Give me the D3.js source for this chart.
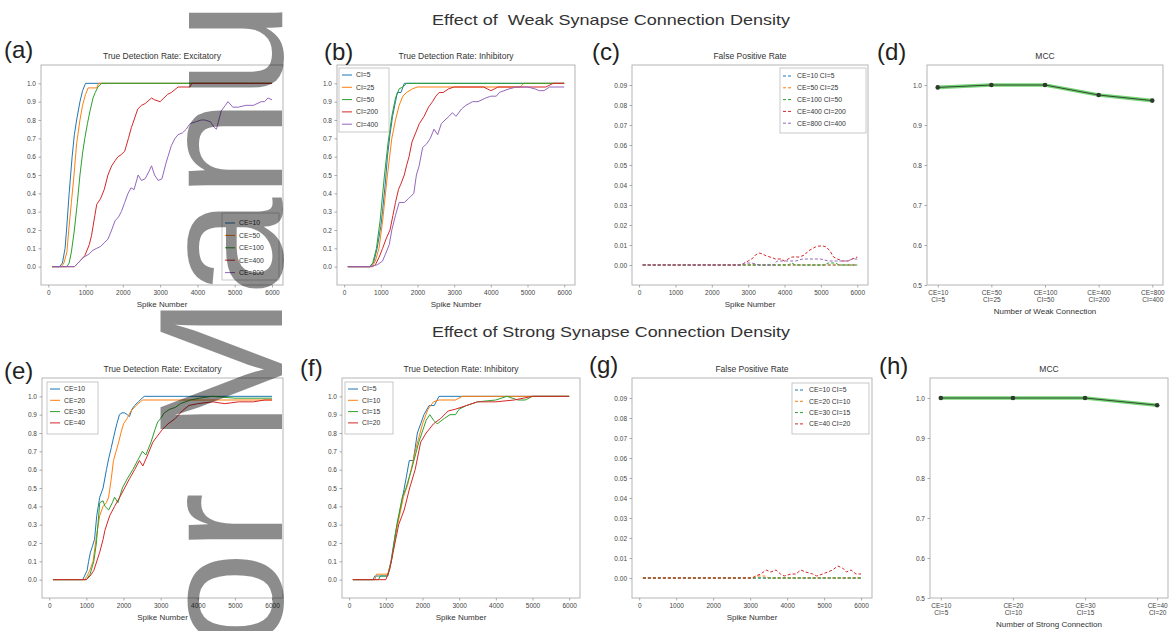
<!DOCTYPE html>
<html><head><meta charset="utf-8">
<script src="https://cdn.jsdelivr.net/npm/d3@7"></script>
<style>
body{margin:0;background:#fff}
text{font-family:"Liberation Sans",Arial,Helvetica,sans-serif}
</style></head>
<body><svg id="c" width="1170" height="631"></svg>
<script>
// ---------------- DATA ----------------
const xTicks = [0,1000,2000,3000,4000,5000,6000];
const rateTicks = [0,0.1,0.2,0.3,0.4,0.5,0.6,0.7,0.8,0.9,1.0];
const fprTicks = [0,0.01,0.02,0.03,0.04,0.05,0.06,0.07,0.08,0.09];
const mccTicks = [0.5,0.6,0.7,0.8,0.9,1.0];

const aLabels = ["CE=10","CE=50","CE=100","CE=400","CE=800"];
const bLabels = ["CI=5","CI=25","CI=50","CI=200","CI=400"];
const cLabels = ["CE=10 CI=5","CE=50 CI=25","CE=100 CI=50","CE=400 CI=200","CE=800 CI=400"];
const eLabels = ["CE=10","CE=20","CE=30","CE=40"];
const fLabels = ["CI=5","CI=10","CI=15","CI=20"];
const gLabels = ["CE=10 CI=5","CE=20 CI=10","CE=30 CI=15","CE=40 CI=20"];
const dCats = ["CE=10|CI=5","CE=50|CI=25","CE=100|CI=50","CE=400|CI=200","CE=800|CI=400"];
const hCats = ["CE=10|CI=5","CE=20|CI=10","CE=30|CI=15","CE=40|CI=20"];

// (a) True detection rate, excitatory (weak)
const aCE10 = [[100,0],[300,0],[380,0.02],[450,0.1],[490,0.2],[560,0.4],[640,0.6],[700,0.72],[760,0.8],[850,0.9],[920,0.96],[1000,1],[6000,1]];
const aCE50 = [[100,0],[350,0],[420,0.02],[500,0.08],[550,0.2],[620,0.35],[690,0.5],[760,0.67],[850,0.8],[920,0.88],[1000,0.94],[1070,0.975],[1300,0.975],[1350,1],[6000,1]];
const aCE100 = [[100,0],[500,0],[560,0.02],[620,0.08],[700,0.2],[780,0.35],[850,0.5],[920,0.62],[980,0.7],[1050,0.78],[1120,0.85],[1200,0.92],[1260,0.95],[1330,0.98],[1430,1],[6000,1]];
const aCE400 = [[100,0],[700,0],[800,0.02],[980,0.06],[1100,0.12],[1160,0.17],[1250,0.28],[1300,0.34],[1400,0.37],[1500,0.42],[1600,0.5],[1700,0.55],[1800,0.58],[1870,0.6],[1950,0.61],[2050,0.63],[2150,0.7],[2230,0.76],[2300,0.8],[2400,0.86],[2500,0.88],[2600,0.89],[2770,0.92],[2850,0.91],[3000,0.9],[3100,0.92],[3200,0.94],[3300,0.95],[3480,0.98],[3800,0.98],[3850,1],[6000,1]];
const aCE800 = [[100,0],[700,0],[800,0.02],[940,0.05],[1100,0.07],[1200,0.09],[1300,0.1],[1400,0.11],[1500,0.13],[1600,0.15],[1700,0.2],[1790,0.25],[1880,0.27],[1960,0.3],[2050,0.35],[2140,0.4],[2220,0.43],[2300,0.42],[2410,0.5],[2500,0.47],[2600,0.48],[2700,0.52],[2770,0.55],[2850,0.5],[2950,0.47],[3050,0.48],[3150,0.56],[3210,0.6],[3300,0.66],[3400,0.7],[3480,0.72],[3600,0.73],[3700,0.75],[3800,0.78],[3950,0.79],[4100,0.8],[4200,0.8],[4350,0.79],[4450,0.76],[4510,0.75],[4600,0.82],[4640,0.85],[4750,0.88],[4820,0.9],[4950,0.87],[5100,0.87],[5300,0.88],[5500,0.88],[5710,0.9],[5800,0.9],[5890,0.92],[6000,0.91]];

// (b) True detection rate, inhibitory (weak)
const bCI5 = [[100,0],[700,0],[800,0.02],[900,0.1],[1000,0.22],[1045,0.3],[1120,0.45],[1180,0.6],[1250,0.72],[1320,0.82],[1400,0.9],[1450,0.95],[1550,0.95],[1640,1],[6000,1]];
const bCI25 = [[100,0],[750,0],[850,0.03],[950,0.1],[1050,0.25],[1180,0.5],[1300,0.7],[1400,0.8],[1500,0.88],[1600,0.93],[1700,0.95],[1860,0.97],[2000,0.98],[4800,0.98],[4900,1],[6000,1]];
const bCI50 = [[100,0],[700,0],[780,0.02],[880,0.1],[980,0.25],[1100,0.5],[1200,0.68],[1300,0.82],[1400,0.92],[1500,0.97],[1600,0.98],[1700,1],[6000,1]];
const bCI200 = [[100,0],[770,0],[850,0.01],[950,0.05],[1050,0.1],[1140,0.15],[1250,0.2],[1330,0.28],[1400,0.35],[1480,0.42],[1545,0.45],[1640,0.5],[1700,0.55],[1770,0.6],[1850,0.68],[1950,0.73],[2050,0.78],[2180,0.82],[2300,0.87],[2410,0.9],[2500,0.93],[2590,0.95],[2700,0.95],[2850,0.97],[3000,0.98],[3800,0.98],[3900,0.97],[4000,0.96],[4100,0.97],[4200,0.98],[5500,0.98],[5700,1],[6000,1]];
const bCI400 = [[100,0],[700,0],[900,0.01],[1045,0.03],[1150,0.08],[1230,0.12],[1300,0.2],[1400,0.28],[1500,0.35],[1640,0.35],[1750,0.37],[1900,0.4],[1970,0.5],[2045,0.55],[2140,0.65],[2250,0.67],[2350,0.7],[2450,0.75],[2550,0.72],[2650,0.78],[2750,0.8],[2860,0.82],[2950,0.84],[3050,0.82],[3200,0.86],[3320,0.88],[3500,0.9],[3650,0.9],[3860,0.92],[4000,0.93],[4150,0.93],[4230,0.95],[4500,0.97],[4700,0.98],[5000,0.98],[5200,0.97],[5320,0.96],[5450,0.96],[5600,0.98],[6000,0.98]];

// (c) False positive rate (weak)
const cS1 = [[100,0],[6000,0]];
const cS2 = [[100,0],[6000,0]];
const cS3 = [[100,0],[4100,0],[4200,0.001],[4300,0],[5100,0],[5200,0.001],[5400,0.001],[5500,0],[6000,0]];
const cS4 = [[100,0],[2800,0],[2900,0.001],[3000,0.002],[3100,0.003],[3200,0.005],[3300,0.006],[3400,0.0055],[3500,0.0045],[3600,0.004],[3750,0.003],[3900,0.003],[4000,0.002],[4100,0.003],[4200,0.004],[4400,0.004],[4550,0.005],[4650,0.007],[4750,0.008],[4850,0.009],[4950,0.0095],[5050,0.0095],[5150,0.009],[5250,0.007],[5350,0.004],[5450,0.003],[5600,0.002],[5750,0.002],[5850,0.003],[6000,0.004]];
const cS5 = [[100,0],[2800,0],[2900,0.001],[3100,0.001],[3300,0],[3700,0],[3800,0.002],[4000,0.002],[4300,0.002],[4500,0.003],[5000,0.003],[5200,0.002],[5700,0.002],[5900,0.003],[6000,0.003]];

// (d) MCC (weak)
const mccWeak = [0.994, 1.0, 1.0, 0.975, 0.961];

// (e) True detection rate, excitatory (strong)
const eCE10 = [[100,0],[900,0],[950,0.02],[1020,0.05],[1060,0.1],[1110,0.15],[1160,0.18],[1220,0.22],[1280,0.35],[1360,0.45],[1450,0.5],[1540,0.6],[1600,0.66],[1670,0.72],[1760,0.8],[1820,0.85],[1890,0.9],[1960,0.91],[2030,0.91],[2100,0.9],[2160,0.89],[2230,0.93],[2300,0.95],[2400,0.97],[2500,0.99],[2560,1],[6000,1]];
const eCE20 = [[100,0],[950,0],[1020,0.02],[1090,0.05],[1180,0.1],[1280,0.25],[1360,0.35],[1450,0.4],[1540,0.42],[1600,0.45],[1670,0.55],[1730,0.65],[1800,0.7],[1870,0.75],[1930,0.8],[2000,0.85],[2100,0.88],[2200,0.92],[2340,0.95],[2450,0.97],[2520,0.98],[6000,0.98]];
const eCE30 = [[100,0],[1000,0],[1100,0.03],[1200,0.1],[1270,0.2],[1360,0.42],[1450,0.43],[1500,0.4],[1600,0.38],[1700,0.42],[1760,0.45],[1850,0.42],[1970,0.5],[2100,0.55],[2250,0.6],[2380,0.65],[2510,0.7],[2600,0.68],[2740,0.75],[2850,0.82],[2920,0.86],[3000,0.88],[3100,0.91],[3250,0.93],[3400,0.94],[3530,0.96],[3800,0.98],[4040,0.99],[4390,1],[5000,0.99],[6000,0.99]];
const eCE40 = [[100,0],[1000,0],[1100,0.02],[1200,0.05],[1360,0.15],[1450,0.22],[1500,0.27],[1630,0.35],[1760,0.4],[1900,0.45],[2030,0.5],[2160,0.55],[2300,0.6],[2430,0.65],[2520,0.62],[2650,0.68],[2790,0.75],[2900,0.78],[3050,0.82],[3200,0.85],[3400,0.88],[3580,0.92],[3760,0.95],[4000,0.96],[4400,0.97],[4730,0.96],[5100,0.97],[5500,0.97],[5800,0.98],[6000,0.98]];

// (f) True detection rate, inhibitory (strong)
const fCI5 = [[100,0],[650,0],[700,0.02],[1050,0.02],[1140,0.1],[1260,0.25],[1410,0.4],[1550,0.55],[1640,0.65],[1750,0.65],[1860,0.8],[1950,0.85],[2040,0.9],[2180,0.95],[2320,0.95],[2450,1],[6000,1]];
const fCI10 = [[100,0],[700,0],[750,0.03],[1050,0.03],[1150,0.1],[1300,0.28],[1480,0.45],[1600,0.52],[1800,0.7],[2000,0.85],[2150,0.93],[2300,0.97],[2450,0.98],[2900,0.98],[3080,1],[6000,1]];
const fCI15 = [[100,0],[800,0],[850,0.02],[1050,0.02],[1150,0.1],[1300,0.3],[1450,0.45],[1550,0.5],[1700,0.6],[1900,0.75],[2100,0.87],[2200,0.9],[2300,0.87],[2400,0.85],[2600,0.88],[2750,0.9],[2900,0.9],[3000,0.93],[3200,0.95],[3500,0.97],[4000,0.98],[4300,1],[4600,0.98],[4800,0.98],[5000,1],[6000,1]];
const fCI20 = [[100,0],[1000,0],[1100,0.05],[1200,0.15],[1350,0.3],[1500,0.38],[1650,0.5],[1800,0.6],[1950,0.75],[2100,0.8],[2300,0.85],[2500,0.88],[2700,0.92],[2900,0.93],[3200,0.95],[3500,0.97],[4000,0.97],[4500,0.98],[5000,1],[6000,1]];

// (g) False positive rate (strong)
const gS1 = [[100,0],[6000,0]];
const gS2 = [[100,0],[3100,0],[3200,0.001],[3400,0.001],[3500,0],[6000,0]];
const gS3 = [[100,0],[6000,0]];
const gS4 = [[100,0],[3050,0],[3150,0.001],[3290,0.002],[3430,0.004],[3560,0.003],[3700,0.004],[3820,0.002],[3920,0.001],[4100,0.002],[4240,0.002],[4370,0.004],[4500,0.003],[4690,0.002],[4800,0.001],[4960,0.002],[5100,0.003],[5230,0.004],[5370,0.006],[5500,0.005],[5600,0.003],[5730,0.004],[5860,0.002],[6000,0.002]];

// (h) MCC (strong)
const mccStrong = [1.0, 1.0, 1.0, 0.982];

// ---------------- DRAWING ----------------
const colors = ["#1f77b4","#ff7f0e","#2ca02c","#d62728","#9467bd"];
const svg = d3.select("#c");
const tickFont = 6.5, tickColor = "#444", frameColor = "#b5b5b5";

function styleAxis(ax){
  ax.select(".domain").remove();
  ax.selectAll(".tick line").attr("stroke","#888").attr("stroke-width",0.7);
  ax.selectAll(".tick text").attr("font-size",tickFont).attr("fill",tickColor).attr("font-family","Liberation Sans, Arial, sans-serif");
}

function frame(p){
  svg.append("rect").attr("x",p.x0).attr("y",p.y0).attr("width",p.x1-p.x0).attr("height",p.y1-p.y0)
    .attr("fill","none").attr("stroke",frameColor).attr("stroke-width",1);
  svg.append("text").attr("x",(p.x0+p.x1)/2).attr("y",p.y0-6).attr("text-anchor","middle")
    .attr("font-size",8.5).attr("fill","#333").text(p.title);
  svg.append("text").attr("x",p.lx).attr("y",p.ly).attr("font-size",24).attr("fill","#222").text(p.letter);
}

function legend(p, labels, dashed){
  const L = p.legend;
  svg.append("rect").attr("x",L.x).attr("y",L.y).attr("width",L.w).attr("height",L.h)
    .attr("fill","#fff").attr("stroke","#bbb").attr("stroke-width",0.8);
  labels.forEach((lab,i)=>{
    const yy = L.y + L.first + i*L.step;
    svg.append("line").attr("x1",L.x+3).attr("x2",L.x+13).attr("y1",yy).attr("y2",yy)
      .attr("stroke",colors[i]).attr("stroke-width",1).attr("stroke-dasharray",dashed?"3,2":null);
    svg.append("text").attr("x",L.x+17).attr("y",yy+2.3).attr("font-size",6.8).attr("fill","#333").text(lab);
  });
}

function linePanel(p, series, labels, yTicks, yFmt, yDomain, dashed){
  const x = d3.scaleLinear().domain([-195,6295]).range([p.x0,p.x1]);
  const y = d3.scaleLinear().domain(yDomain).range([p.y1,p.y0]);
  frame(p);
  const xa = svg.append("g").attr("transform",`translate(0,${p.y1})`)
    .call(d3.axisBottom(x).tickValues(xTicks).tickFormat(d3.format("d")).tickSize(2.5).tickPadding(2.5));
  styleAxis(xa);
  const ya = svg.append("g").attr("transform",`translate(${p.x0},0)`)
    .call(d3.axisLeft(y).tickValues(yTicks).tickFormat(d3.format(yFmt)).tickSize(2.5).tickPadding(2.5));
  styleAxis(ya);
  svg.append("text").attr("x",(p.x0+p.x1)/2).attr("y",p.y1+22).attr("text-anchor","middle")
    .attr("font-size",8).attr("fill","#333").text("Spike Number");
  const line = d3.line().x(d=>x(d[0])).y(d=>y(d[1]));
  series.forEach((s,i)=>{
    svg.append("path").datum(s).attr("d",line).attr("fill","none").attr("stroke",colors[i])
      .attr("stroke-width",1).attr("stroke-dasharray",dashed?"3,2":null);
  });
  legend(p, labels, dashed);
}

function mccPanel(p, cats, vals, xlabel){
  const n = cats.length;
  const x = d3.scaleLinear().domain([-0.05*(n-1),(n-1)*1.05]).range([p.x0,p.x1]);
  const y = d3.scaleLinear().domain([0.5,1.05]).range([p.y1,p.y0]);
  frame(p);
  const idx = d3.range(n);
  const xa = svg.append("g").attr("transform",`translate(0,${p.y1})`)
    .call(d3.axisBottom(x).tickValues(idx).tickFormat(i=>cats[i]).tickSize(2.5).tickPadding(2.5));
  styleAxis(xa);
  xa.selectAll(".tick text").each(function(d){
    const parts = cats[d].split("|");
    const t = d3.select(this); t.text(null);
    parts.forEach((s,k)=>t.append("tspan").attr("x",0).attr("dy",k===0?"0.71em":"1.15em").text(s));
  });
  const ya = svg.append("g").attr("transform",`translate(${p.x0},0)`)
    .call(d3.axisLeft(y).tickValues(mccTicks).tickFormat(d3.format(".1f")).tickSize(2.5).tickPadding(2.5));
  styleAxis(ya);
  svg.append("text").attr("x",(p.x0+p.x1)/2).attr("y",p.y1+29).attr("text-anchor","middle")
    .attr("font-size",8).attr("fill","#333").text(xlabel);
  const line = d3.line().x((d,i)=>x(i)).y(d=>y(d));
  svg.append("path").datum(vals).attr("d",line).attr("fill","none").attr("stroke","#3cc23c").attr("stroke-opacity",0.7).attr("stroke-width",3.6);
  svg.append("path").datum(vals).attr("d",line).attr("fill","none").attr("stroke","#2a3a2a").attr("stroke-width",0.9);
  svg.selectAll(null).data(vals).enter().append("circle").attr("cx",(d,i)=>x(i)).attr("cy",d=>y(d)).attr("r",2.3).attr("fill","#2d3b2d");
}

// super titles
svg.append("text").attr("x",432).attr("y",25).attr("font-size",15).attr("fill","#333")
  .attr("textLength",358).attr("lengthAdjust","spacingAndGlyphs").style("white-space","pre")
  .text("Effect of  Weak Synapse Connection Density");
svg.append("text").attr("x",432).attr("y",337).attr("font-size",15).attr("fill","#333")
  .attr("textLength",358).attr("lengthAdjust","spacingAndGlyphs")
  .text("Effect of Strong Synapse Connection Density");

const PA = {x0:41,x1:283,y0:65,y1:285,title:"True Detection Rate: Excitatory",letter:"(a)",lx:4,ly:58,
  legend:{x:222,y:213,w:57,h:67,first:10,step:12.4}};
const PB = {x0:337,x1:575,y0:65,y1:285,title:"True Detection Rate: Inhibitory",letter:"(b)",lx:324,ly:60,
  legend:{x:339,y:68,w:50,h:64,first:7,step:12.3}};
const PC = {x0:632,x1:868,y0:65,y1:285,title:"False Positive Rate",letter:"(c)",lx:592,ly:60,
  legend:{x:780,y:68,w:86,h:65,first:8,step:11.8}};
const PD = {x0:927,x1:1163,y0:65,y1:285,title:"MCC",letter:"(d)",lx:877,ly:60};
const PE = {x0:42,x1:283,y0:378,y1:598,title:"True Detection Rate: Excitatory",letter:"(e)",lx:4,ly:379,
  legend:{x:47,y:382,w:51,h:52,first:7,step:11.3}};
const PF = {x0:342,x1:580,y0:378,y1:598,title:"True Detection Rate: Inhibitory",letter:"(f)",lx:300,ly:376,
  legend:{x:345,y:382,w:48,h:52,first:7,step:11.3}};
const PG = {x0:632,x1:872,y0:378,y1:598,title:"False Positive Rate",letter:"(g)",lx:589,ly:373,
  legend:{x:792,y:383,w:77,h:51,first:7,step:11.3}};
const PH = {x0:930,x1:1168,y0:378,y1:598,title:"MCC",letter:"(h)",lx:879,ly:374};

linePanel(PA,[aCE10,aCE50,aCE100,aCE400,aCE800],aLabels,rateTicks,".1f",[-0.1,1.1],false);
linePanel(PB,[bCI5,bCI25,bCI50,bCI200,bCI400],bLabels,rateTicks,".1f",[-0.1,1.1],false);
linePanel(PC,[cS1,cS2,cS3,cS4,cS5],cLabels,fprTicks,".2f",[-0.01,0.1],true);
mccPanel(PD,dCats,mccWeak,"Number of Weak Connection");
linePanel(PE,[eCE10,eCE20,eCE30,eCE40],eLabels,rateTicks,".1f",[-0.1,1.1],false);
linePanel(PF,[fCI5,fCI10,fCI15,fCI20],fLabels,rateTicks,".1f",[-0.1,1.1],false);
linePanel(PG,[gS1,gS2,gS3,gS4],gLabels,fprTicks,".2f",[-0.01,0.1],true);
mccPanel(PH,hCats,mccStrong,"Number of Strong Connection");

// watermark
svg.append("text").attr("transform","translate(282,650) rotate(-90)")
  .attr("font-size",177).attr("fill","#000").attr("fill-opacity",0.45)
  .attr("font-family","Liberation Sans, Arial, sans-serif").text("or Manu");
</script></body></html>
